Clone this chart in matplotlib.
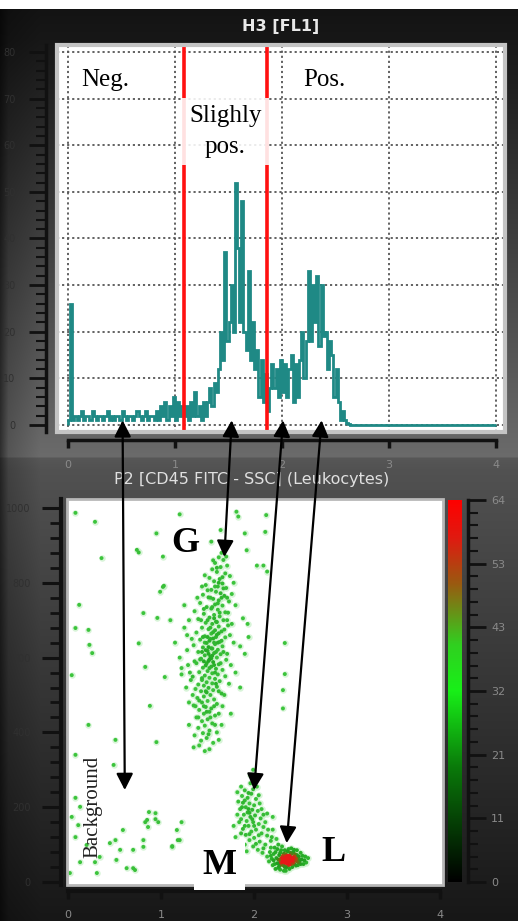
import numpy as np
import matplotlib.pyplot as plt
from matplotlib.colors import LinearSegmentedColormap
from matplotlib.patches import Rectangle, ConnectionPatch, ArrowStyle

# ---- data -------------------------------------------------------------
# FL1 histogram, channel width 0.02 decades, counts per channel (0 .. 2.64)
bin_width = 0.02
hist_counts = [1, 26, 1,
               2, 1, 2, 3, 1, 2, 2, 1, 3, 2, 1, 2, 2, 1, 2, 3, 1, 2, 1, 2,
               2, 1, 3, 2, 1, 2, 2, 1, 2, 3, 2, 1, 2, 3, 1, 2, 2, 1,
               3, 1, 4, 2, 5, 1, 4, 2, 6, 1, 5, 2, 4,
               2, 4, 1, 5, 2, 7, 2, 4, 1, 5, 2,
               5, 8, 4, 9, 7,
               12, 20, 14,
               37, 18, 22,
               30, 20, 52, 38,
               22, 48, 20,
               16, 33, 14, 22, 12,
               16, 6, 14, 5,
               11, 3, 8,
               13, 8, 12,
               6, 14, 7, 13, 6, 12,
               15, 5, 13, 6, 14,
               20, 10, 18,
               33, 18, 30,
               22, 32, 17, 30, 19,
               20, 12, 18,
               15, 6, 12,
               5, 1, 3,
               1, 0.5, 0.3]
hist_counts = hist_counts + [0] * (200 - len(hist_counts))

gate_lo, gate_hi = 1.08, 1.86

# CD45 FITC (x) vs SSC (y) events
gran_pts = [(1.62, 868), (1.67, 861), (1.58, 853), (1.71, 846), (1.64, 842), (1.55, 836), (1.60, 829),
            (1.69, 825), (1.74, 818), (1.52, 813), (1.63, 810), (1.57, 804), (1.66, 798), (1.48, 794),
            (1.61, 790), (1.70, 786), (1.54, 781), (1.59, 776), (1.64, 772), (1.45, 768), (1.68, 765),
            (1.51, 761), (1.56, 757), (1.62, 753), (1.73, 750), (1.42, 746), (1.58, 742), (1.66, 739),
            (1.49, 735), (1.54, 731), (1.61, 728), (1.36, 724), (1.69, 721), (1.46, 717), (1.57, 714),
            (1.63, 710), (1.52, 707), (1.40, 703), (1.67, 700), (1.59, 696), (1.48, 693), (1.55, 690),
            (1.72, 686), (1.62, 683), (1.44, 680), (1.51, 676), (1.58, 673), (1.65, 670), (1.38, 667),
            (1.54, 664), (1.60, 661), (1.47, 657), (1.69, 654), (1.56, 651), (1.42, 648), (1.52, 645),
            (1.63, 642), (1.49, 639), (1.58, 636), (1.35, 633), (1.66, 630), (1.45, 627), (1.55, 624),
            (1.61, 621), (1.50, 618), (1.40, 615), (1.57, 612), (1.64, 609), (1.47, 606), (1.53, 603),
            (1.60, 600), (1.43, 597), (1.70, 594), (1.51, 591), (1.56, 588), (1.38, 585), (1.62, 582),
            (1.48, 579), (1.54, 576), (1.45, 573), (1.59, 570), (1.66, 567), (1.50, 564), (1.41, 561),
            (1.55, 558), (1.61, 555), (1.47, 552), (1.34, 549), (1.52, 546), (1.58, 543), (1.44, 540),
            (1.63, 537), (1.49, 534), (1.55, 531), (1.40, 528), (1.46, 525), (1.60, 522), (1.51, 519),
            (1.37, 516), (1.56, 513), (1.43, 510), (1.49, 507), (1.65, 504), (1.53, 500), (1.46, 496),
            (1.39, 492), (1.57, 488), (1.50, 484), (1.44, 480), (1.60, 476), (1.35, 472), (1.48, 468),
            (1.54, 464), (1.41, 460), (1.52, 455), (1.46, 450), (1.58, 445), (1.38, 440), (1.50, 435),
            (1.44, 430), (1.55, 424), (1.47, 418), (1.40, 412), (1.52, 405), (1.45, 398), (1.36, 392),
            (1.49, 385), (1.43, 378), (1.56, 372), (1.41, 365),
            (1.53, 650), (1.57, 640), (1.51, 628), (1.59, 615), (1.54, 598), (1.49, 585), (1.58, 560),
            (1.52, 572), (1.46, 590), (1.55, 605), (1.61, 640), (1.50, 655), (1.56, 668), (1.53, 680),
            (1.60, 695), (1.57, 705), (1.63, 720), (1.55, 735), (1.61, 745), (1.65, 760), (1.58, 790),
            (1.62, 800), (1.66, 815),
            (1.30, 700), (1.33, 650), (1.28, 620), (1.36, 590), (1.31, 560), (1.27, 520), (1.34, 500),
            (1.72, 720), (1.76, 690), (1.74, 660), (1.78, 640), (1.71, 610), (1.75, 580), (1.69, 550),
            (1.73, 530), (1.68, 500), (1.66, 470), (1.62, 450), (1.39, 760), (1.44, 790), (1.47, 820),
            (1.78, 800), (1.76, 770), (1.80, 740), (1.25, 680), (1.29, 580), (1.32, 540), (1.37, 470),
            (1.40, 440), (1.60, 400), (1.58, 420), (1.47, 350), (1.51, 395), (1.43, 700), (1.45, 655),
            (1.48, 620), (1.42, 595), (1.44, 545), (1.48, 510), (1.41, 485), (1.64, 585), (1.67, 615),
            (1.65, 645), (1.68, 675), (1.71, 700), (1.59, 530), (1.62, 510), (1.57, 470), (1.53, 440),
            (1.49, 455), (1.46, 470), (1.51, 610), (1.54, 625), (1.52, 595), (1.57, 580), (1.47, 640),
            (1.44, 615), (1.59, 655), (1.62, 665), (1.50, 700), (1.46, 730), (1.53, 760), (1.50, 780),
            (1.67, 785), (1.71, 760), (1.60, 840), (1.56, 860), (1.65, 880), (1.70, 870)]

mono_pts = [(1.96, 264), (1.99, 248), (1.97, 236), (1.93, 225), (2.02, 222), (1.88, 212), (1.95, 210),
            (2.00, 205), (1.91, 200), (1.85, 195), (1.98, 193), (2.04, 190), (1.93, 186), (1.89, 180),
            (2.01, 178), (1.96, 174), (2.07, 170), (1.86, 168), (1.92, 163), (1.99, 160), (2.05, 155),
            (1.94, 150), (2.10, 147), (1.88, 142), (2.02, 140), (1.97, 135), (2.08, 130), (1.91, 126),
            (2.14, 124), (2.00, 118), (1.95, 112), (2.06, 108), (1.84, 105), (2.12, 100), (1.99, 95),
            (2.18, 92), (2.04, 86), (1.92, 82), (2.09, 78), (1.80, 120), (1.78, 150), (2.20, 140),
            (2.24, 115), (1.87, 230), (2.03, 255), (2.20, 174), (2.14, 183), (2.19, 120),
            (1.82, 240), (1.86, 255), (1.90, 245), (1.94, 238), (2.05, 232), (1.83, 215), (1.90, 218),
            (2.06, 210), (1.87, 200), (1.94, 195), (2.08, 195), (1.82, 180), (1.95, 185), (2.10, 180),
            (1.84, 160), (1.98, 168), (2.12, 160), (1.90, 150), (2.00, 150), (2.15, 140), (1.86, 130),
            (1.95, 128), (2.05, 125), (2.18, 110), (1.90, 100), (2.02, 102), (2.10, 90), (1.96, 285),
            (1.99, 300), (2.00, 270), (1.80, 100), (1.76, 85)]

lymph_pts = [(2.18, 70), (2.21, 58), (2.20, 45), (2.23, 80), (2.24, 64), (2.25, 50), (2.26, 38), (2.27, 72),
             (2.28, 58), (2.29, 85), (2.30, 46), (2.30, 65), (2.31, 54), (2.32, 76), (2.33, 40), (2.33, 60),
             (2.34, 68), (2.35, 50), (2.35, 57), (2.36, 82), (2.36, 63), (2.37, 45), (2.38, 70), (2.38, 55),
             (2.39, 60), (2.40, 48), (2.40, 75), (2.41, 64), (2.42, 52), (2.43, 86), (2.43, 68), (2.44, 58),
             (2.45, 44), (2.46, 72), (2.47, 62), (2.48, 52), (2.50, 78), (2.51, 60), (2.53, 48), (2.55, 68),
             (2.22, 92), (2.28, 33), (2.34, 30), (2.40, 90), (2.32, 62), (2.36, 58), (2.37, 62), (2.34, 55),
             (2.39, 66), (2.31, 59), (2.41, 57), (2.35, 66), (2.33, 52), (2.38, 63), (2.36, 53), (2.42, 62),
             (2.29, 63), (2.44, 66), (2.27, 50), (2.46, 55),
             (2.16, 55), (2.17, 80), (2.19, 62), (2.21, 75), (2.22, 48), (2.23, 35), (2.25, 88), (2.26, 60),
             (2.27, 42), (2.28, 78), (2.29, 52), (2.30, 95), (2.31, 70), (2.32, 44), (2.33, 85), (2.34, 74),
             (2.35, 40), (2.36, 70), (2.37, 88), (2.38, 47), (2.39, 78), (2.40, 58), (2.41, 40), (2.42, 80),
             (2.43, 48), (2.44, 74), (2.45, 62), (2.46, 85), (2.47, 45), (2.48, 68), (2.49, 58), (2.50, 48),
             (2.52, 70), (2.54, 58), (2.56, 52), (2.58, 64), (2.14, 68), (2.26, 100), (2.32, 30), (2.38, 35),
             (2.33, 58), (2.35, 61), (2.37, 57), (2.34, 63), (2.36, 60), (2.31, 62), (2.39, 58), (2.38, 60),
             (2.32, 57), (2.40, 62)]

other_pts = [(1.20, 983), (1.81, 990), (1.83, 977), (2.13, 981), (0.95, 932), (1.64, 941), (1.90, 932),
             (2.12, 936), (0.76, 881), (1.02, 870), (1.92, 887), (1.54, 910), (2.03, 846), (2.10, 846),
             (2.14, 830), (1.03, 792), (0.99, 776), (1.25, 740), (1.88, 705), (1.93, 690), (1.10, 700),
             (1.28, 660), (1.15, 640), (1.85, 630), (1.20, 600), (1.90, 610), (1.22, 555), (1.80, 560),
             (1.30, 480), (1.85, 520), (1.75, 450), (1.65, 420), (1.30, 420), (1.62, 380), (1.52, 355),
             (1.35, 360), (0.81, 719), (0.96, 706), (0.76, 638), (0.83, 575), (1.04, 548), (1.22, 572),
             (0.95, 374), (2.33, 639), (2.33, 556), (2.31, 513), (2.31, 464), (1.94, 655), (0.74, 888),
             (1.02, 789), (0.88, 471),
             (0.08, 987), (0.29, 963), (0.36, 866), (0.12, 741), (0.08, 679), (0.22, 674), (0.23, 634),
             (0.26, 612), (0.04, 553), (0.22, 420), (0.51, 380), (0.08, 340), (0.49, 313),
             (0.08, 225), (0.13, 201), (0.04, 174), (0.11, 152), (0.08, 120), (0.20, 99), (0.13, 53),
             (0.29, 53), (0.02, 24), (0.45, 104), (0.51, 112), (0.59, 139), (0.56, 86), (0.52, 59),
             (0.63, 37), (0.72, 32), (0.31, 24), (0.34, 67), (0.70, 86), (0.85, 166), (0.94, 184),
             (0.86, 147), (0.81, 112), (1.12, 94), (1.18, 112), (1.22, 160), (1.17, 139), (0.87, 187),
             (0.94, 168), (0.83, 160), (0.97, 160), (1.20, 112), (1.12, 96), (0.81, 94), (0.70, 37)]

# arrows: (histogram channel, scatter CD45, scatter SSC)
arrow_links = [(0.51, 0.61, 246), (1.53, 1.68, 869), (2.01, 2.00, 246), (2.37, 2.35, 104)]

cbar_labels = ['0', '11', '21', '32', '43', '53', '64']

# ---- figure -------------------------------------------------------------
W, H = 518, 921
fig = plt.figure(figsize=(W / 100, H / 100), dpi=100)

# dark software-window background
rows = np.arange(H)
v = np.where(rows < 458, np.interp(rows, [0, 40, 458], [0.07, 0.09, 0.42]),
             np.interp(rows, [458, 470, 921], [0.34, 0.32, 0.09]))
cols = np.interp(np.arange(W), [0, 8, 40, W], [0.45, 0.8, 1.0, 1.0])
bg = np.clip(v[:, None] * cols[None, :], 0, 1)
bg[:10, :] = 1.0
bg_ax = fig.add_axes([0, 0, 1, 1])
bg_ax.imshow(np.dstack([bg, bg, bg]), aspect='auto')
bg_ax.axis('off')
bg_ax.set_zorder(-5)

serif = 'Liberation Serif'
teal = '#1f8985'

# ---- histogram ----------------------------------------------------------
ax1 = fig.add_axes([57 / W, 1 - 432 / H, 448 / W, 387 / H])
edges = np.arange(len(hist_counts) + 1) * bin_width
ax1.stairs(hist_counts, edges, color=teal, lw=2.0, zorder=3)
ax1.axvline(gate_lo, color='#ff1010', lw=2.6, zorder=4)
ax1.axvline(gate_hi, color='#ff1010', lw=2.6, zorder=4)
ax1.set_xlim(-0.103, 4.084)
ax1.set_ylim(-1.5, 81.5)
ax1.set_xticks([0, 1, 2, 3, 4])
ax1.set_yticks(np.arange(0, 81, 10))
ax1.set_yticks(np.arange(0, 81, 2), minor=True)
ax1.grid(True, which='major', color='#555555', linestyle=(0, (1.2, 1.6)), lw=1.3)
ax1.set_axisbelow(True)
for s in ['top', 'right']:
    ax1.spines[s].set_visible(False)
ax1.spines['left'].set_position(('outward', 8))
ax1.spines['bottom'].set_position(('outward', 6))
ax1.spines['bottom'].set_bounds(0, 4)
for s in ['left', 'bottom']:
    ax1.spines[s].set_linewidth(2.5)
    ax1.spines[s].set_color('#111111')
ax1.add_patch(Rectangle((0, 0), 1, 1, transform=ax1.transAxes, fill=False,
                        ec='#c4c4c4', lw=3, clip_on=False, zorder=5))
ax1.tick_params(axis='y', which='major', length=12, width=2, color='#111111',
                labelsize=7, labelcolor='#303030', pad=10)
ax1.tick_params(axis='y', which='minor', length=7, width=1.5, color='#111111')
ax1.tick_params(axis='x', which='major', length=6, width=2.5, color='#111111',
                labelsize=8, labelcolor='#8a8a8a', pad=8)
ax1.set_yticklabels([str(t) for t in range(0, 81, 10)])

ax1.text(0.35, 74, 'Neg.', family=serif, fontsize=18, ha='center', va='center', zorder=6)
ax1.text(2.40, 74, 'Pos.', family=serif, fontsize=18, ha='center', va='center', zorder=6)
ax1.text((gate_lo + gate_hi) / 2, 63.0, 'Slighly\npos.', family=serif, fontsize=18,
         ha='center', va='center', linespacing=1.5, zorder=6,
         bbox=dict(fc='white', ec='none', alpha=0.88, pad=5))

fig.text(281 / W, 1 - 26 / H, 'H3 [FL1]', color='#e8e8e8', fontsize=11.5,
         fontweight='bold', ha='center', va='center')

# ---- dot plot -----------------------------------------------------------
ax2 = fig.add_axes([67 / W, 1 - 885 / H, 376 / W, 386 / H])
ax2.set_facecolor('white')

pts = np.array(gran_pts + mono_pts + lymph_pts + other_pts)
px, py = pts[:, 0] * 93, pts[:, 1] * 0.374
d2 = (px[:, None] - px[None, :]) ** 2 + (py[:, None] - py[None, :]) ** 2
dens = (d2 < 5.0 ** 2).sum(axis=1)
order = np.argsort(dens)
dot_cmap = LinearSegmentedColormap.from_list(
    'dots', ['#3cc43c', '#26ac26', '#1e9a1e', '#8a6010', '#e81818'])
ax2.scatter(pts[:, 0], pts[:, 1], s=22, color='#bfeebf', alpha=0.6, lw=0, zorder=2)
ax2.scatter(pts[order, 0], pts[order, 1], s=8, c=dens[order], cmap=dot_cmap,
            vmin=1, vmax=0.6 * dens.max(), marker='o', lw=0, zorder=3)

ax2.set_xlim(-0.011, 4.03)
ax2.set_ylim(-8, 1024)
ax2.set_xticks([0, 1, 2, 3, 4])
ax2.set_yticks(np.arange(0, 1001, 200))
ax2.set_yticks(np.arange(0, 1024, 40), minor=True)
for s in ['top', 'right']:
    ax2.spines[s].set_visible(False)
ax2.spines['left'].set_position(('outward', 4))
ax2.spines['bottom'].set_position(('outward', 4))
ax2.spines['bottom'].set_bounds(0, 4)
for s in ['left', 'bottom']:
    ax2.spines[s].set_linewidth(3)
    ax2.spines[s].set_color('#111111')
ax2.add_patch(Rectangle((0, 0), 1, 1, transform=ax2.transAxes, fill=False,
                        ec='#b8b8b8', lw=2, clip_on=False, zorder=5))
ax2.tick_params(axis='y', which='major', length=14, width=2.2, color='#111111',
                labelsize=7, labelcolor='#303030', pad=8)
ax2.tick_params(axis='y', which='minor', length=8, width=2, color='#111111')
ax2.tick_params(axis='x', which='major', length=6, width=2.5, color='#111111',
                labelsize=8, labelcolor='#8a8a8a', pad=8)

ax2.text(1.26, 906, 'G', family=serif, fontsize=26, fontweight='bold',
         ha='center', va='center', zorder=6)
ax2.text(2.85, 80, 'L', family=serif, fontsize=26, fontweight='bold',
         ha='center', va='center', zorder=6)
ax2.text(1.63, 45, 'M', family=serif, fontsize=26, fontweight='bold',
         ha='center', va='center', zorder=6, clip_on=False,
         bbox=dict(fc='white', ec='none', pad=6))
ax2.text(0.27, 200, 'Background', family=serif, fontsize=15, rotation=90,
         ha='center', va='center', color='#222222', zorder=6)

fig.text(252 / W, 1 - 479 / H, 'P2 [CD45 FITC - SSC] (Leukocytes)', color='#e0e0e0',
         fontsize=11.5, ha='center', va='center')

# ---- density colour bar -------------------------------------------------
bar_cmap = LinearSegmentedColormap.from_list(
    'bar', [(0, '#000000'), (0.3, '#0a7a0a'), (0.5, '#18f018'), (0.62, '#30d020'),
            (0.78, '#9a5a10'), (0.9, '#e01a10'), (1, '#ff0000')])
cax = fig.add_axes([448 / W, 1 - 882 / H, 14 / W, 382 / H])
cax.imshow(np.linspace(0, 1, 256)[:, None], cmap=bar_cmap, origin='lower',
           aspect='auto', extent=[0, 1, 0, 64])
cax.set_xticks([])
cax.yaxis.tick_right()
cax.set_yticks(np.linspace(0, 64, 7))
cax.set_yticks(np.linspace(0, 64, 31), minor=True)
cax.set_yticklabels(cbar_labels)
for s in ['top', 'bottom', 'left']:
    cax.spines[s].set_visible(False)
cax.spines['right'].set_position(('outward', 4))
cax.spines['right'].set_linewidth(2.5)
cax.spines['right'].set_color('#111111')
cax.tick_params(axis='y', which='major', length=13, width=2, color='#111111',
                labelsize=8, labelcolor='#8a8a8a', pad=4)
cax.tick_params(axis='y', which='minor', length=7, width=1.5, color='#111111')

# ---- arrows linking histogram regions to populations -------------------
style = ArrowStyle('<|-|>', head_length=0.55, head_width=0.28)
for hx, sx, sy in arrow_links:
    con = ConnectionPatch(xyA=(hx, 1.0), coordsA=ax1.transData,
                          xyB=(sx, sy), coordsB=ax2.transData,
                          arrowstyle=style, mutation_scale=18, lw=1.6,
                          color='black', zorder=20)
    fig.add_artist(con)

fig.savefig('out.png', dpi=100)
